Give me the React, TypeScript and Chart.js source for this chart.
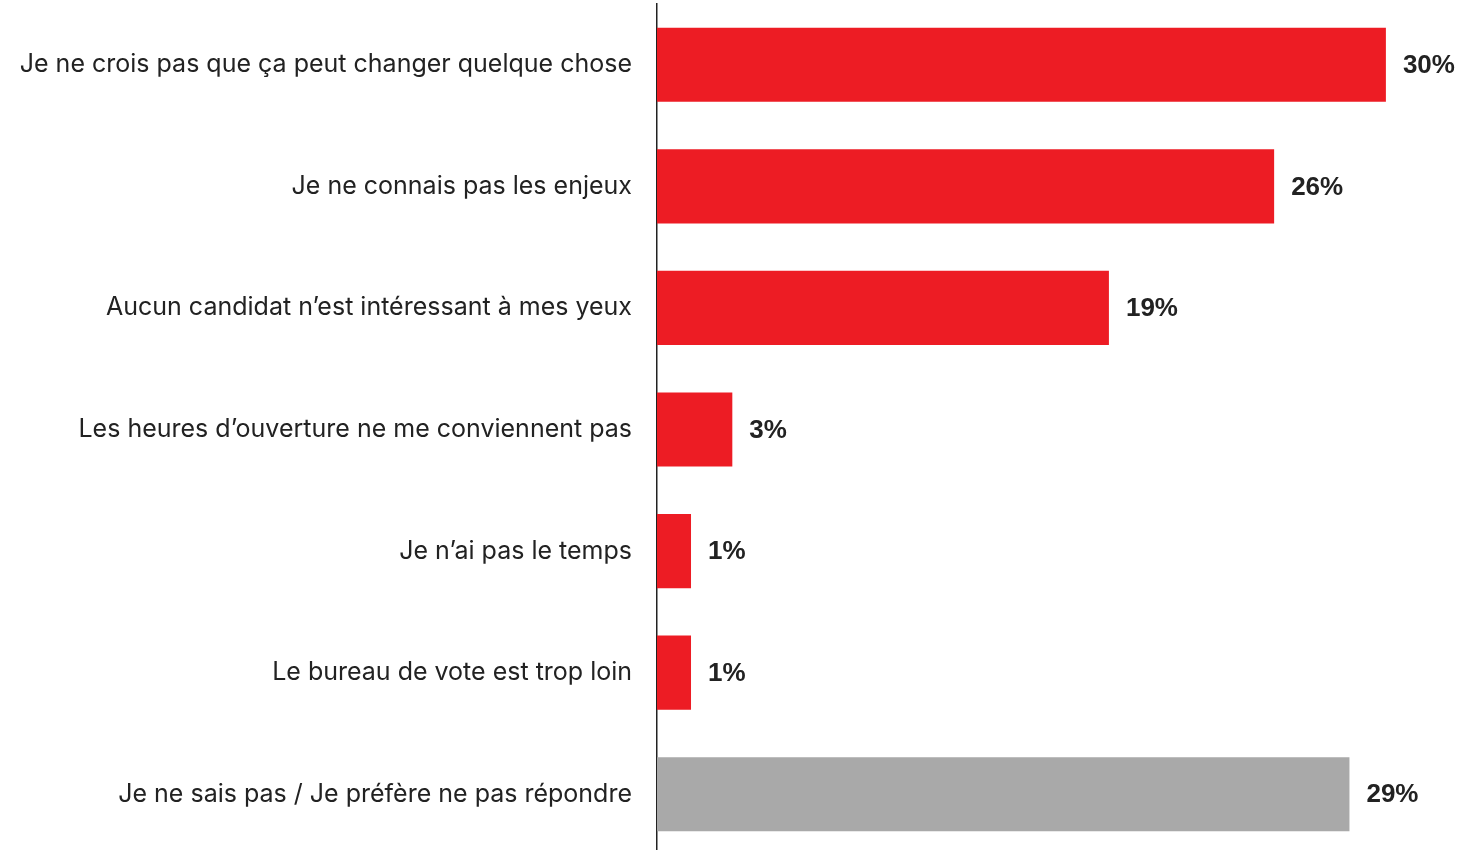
import React, { useEffect, useRef } from "react";
import { Chart, registerables } from "chart.js";

Chart.register(...registerables);

const categories = [
  "Je ne crois pas que ça peut changer quelque chose",
  "Je ne connais pas les enjeux",
  "Aucun candidat n’est intéressant à mes yeux",
  "Les heures d’ouverture ne me conviennent pas",
  "Je n’ai pas le temps",
  "Le bureau de vote est trop loin",
  "Je ne sais pas / Je préfère ne pas répondre",
];
const values = [30, 25.4, 18.6, 3.1, 1.4, 1.4, 28.5];
const valueLabels = ["30%", "26%", "19%", "3%", "1%", "1%", "29%"];
const barColors = ["#ED1C24", "#ED1C24", "#ED1C24", "#ED1C24", "#ED1C24", "#ED1C24", "#A9A9A9"];

const valueLabelPlugin = {
  id: "valueLabels",
  afterDatasetsDraw(chart: any) {
    const ctx = chart.ctx;
    const meta = chart.getDatasetMeta(0);
    ctx.save();
    ctx.font = "bold 26px 'Liberation Sans', Arial, sans-serif";
    ctx.fillStyle = "#222222";
    ctx.textAlign = "left";
    ctx.textBaseline = "middle";
    meta.data.forEach((bar: any, i: number) => {
      ctx.fillText(valueLabels[i], bar.x + 17, bar.y + 1);
    });
    ctx.restore();
  },
};

export default function App() {
  const ref = useRef<HTMLCanvasElement | null>(null);
  useEffect(() => {
    if (!ref.current) return;
    const chart = new Chart(ref.current, {
      type: "bar",
      data: {
        labels: categories,
        datasets: [
          {
            data: values,
            backgroundColor: barColors,
            borderWidth: 0,
            barPercentage: 0.61,
            categoryPercentage: 1,
          },
        ],
      },
      options: {
        indexAxis: "y",
        animation: false,
        responsive: false,
        maintainAspectRatio: false,
        layout: { padding: { top: 4, right: 0, bottom: 0, left: 0 } },
        plugins: { legend: { display: false }, tooltip: { enabled: false } },
        scales: {
          x: {
            display: false,
            min: 0,
            max: 33.05,
            grid: { display: false },
          },
          y: {
            afterFit: (scale: any) => {
              scale.width = 657;
              scale.paddingTop = 0;
              scale.paddingBottom = 0;
            },
            grid: { display: false, drawTicks: false },
            border: { display: true, color: "#222222", width: 1.5 },
            ticks: {
              padding: 25,
              color: "#222222",
              font: { family: "Inter, 'Noto Sans', sans-serif", size: 25 },
            },
          },
        },
      },
      plugins: [valueLabelPlugin],
    });
    return () => chart.destroy();
  }, []);
  return (
    <div
      style={{
        position: "fixed",
        left: 0,
        top: 0,
        width: 1460,
        height: 850,
        overflow: "hidden",
        background: "#ffffff",
      }}
    >
      <canvas ref={ref} width={1460} height={855} style={{ display: "block" }} />
    </div>
  );
}
